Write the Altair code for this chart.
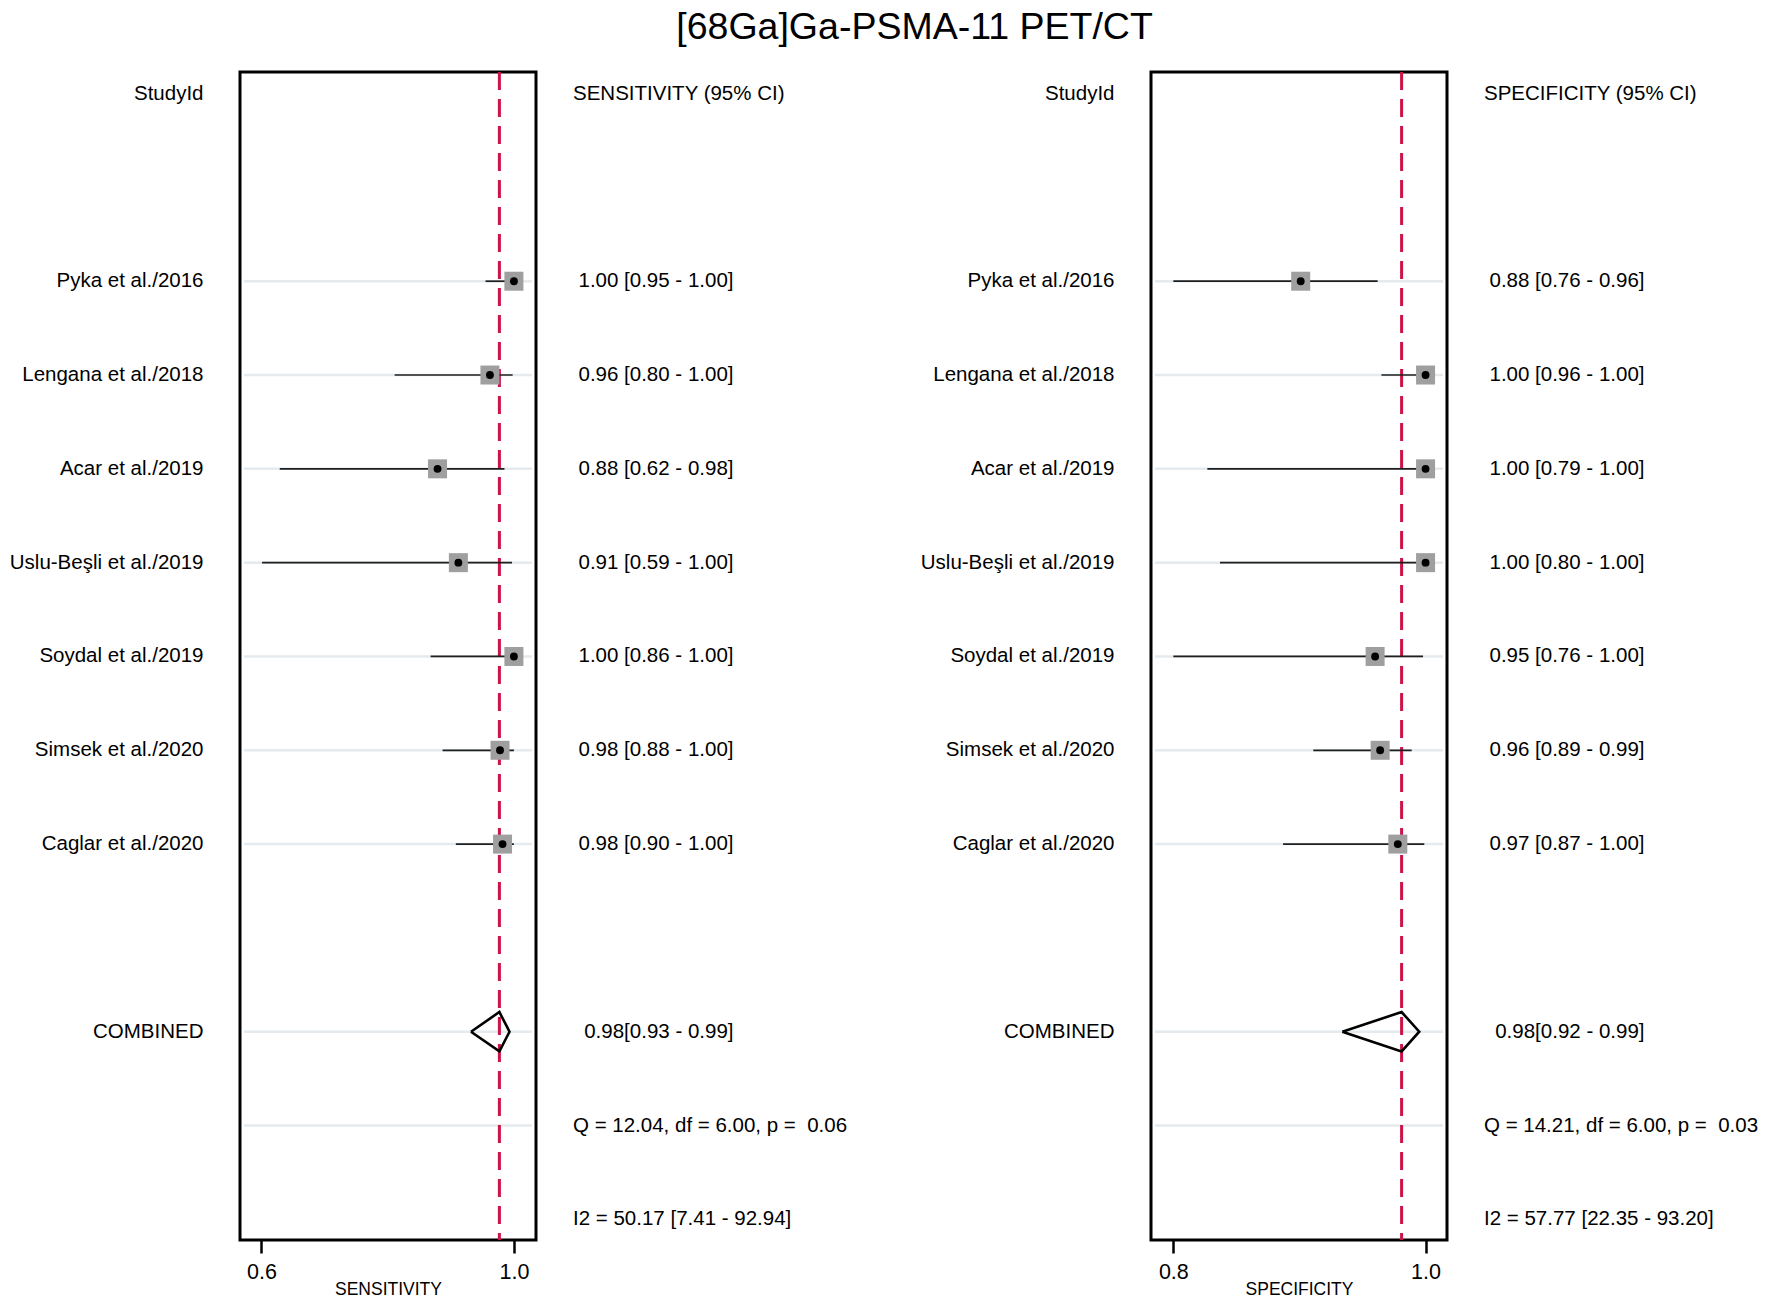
import altair as alt
import pandas as pd

TITLE = "[68Ga]Ga-PSMA-11 PET/CT"

studies = [
    "Pyka et al./2016",
    "Lengana et al./2018",
    "Acar et al./2019",
    "Uslu-Beşli et al./2019",
    "Soydal et al./2019",
    "Simsek et al./2020",
    "Caglar et al./2020",
]

# Sensitivity (positions) and printed labels
sens_est = [1.000, 0.962, 0.879, 0.912, 1.000, 0.978, 0.982]
sens_lo = [0.955, 0.811, 0.629, 0.601, 0.868, 0.887, 0.908]
sens_hi = [1.000, 0.998, 0.985, 0.997, 1.000, 1.000, 1.000]
sens_text = [
    "1.00 [0.95 - 1.00]",
    "0.96 [0.80 - 1.00]",
    "0.88 [0.62 - 0.98]",
    "0.91 [0.59 - 1.00]",
    "1.00 [0.86 - 1.00]",
    "0.98 [0.88 - 1.00]",
    "0.98 [0.90 - 1.00]",
]
sens_comb = [0.977, 0.932, 0.993]  # estimate, lower, upper
sens_comb_text = "0.98[0.93 - 0.99]"
sens_q = "Q = 12.04, df = 6.00, p = \u00a00.06"
sens_i2 = "I2 = 50.17 [7.41 - 92.94]"

# Specificity
spec_est = [0.901, 1.000, 1.000, 1.000, 0.960, 0.964, 0.978]
spec_lo = [0.800, 0.965, 0.827, 0.837, 0.800, 0.911, 0.887]
spec_hi = [0.962, 1.000, 1.000, 1.000, 0.998, 0.989, 0.999]
spec_text = [
    "0.88 [0.76 - 0.96]",
    "1.00 [0.96 - 1.00]",
    "1.00 [0.79 - 1.00]",
    "1.00 [0.80 - 1.00]",
    "0.95 [0.76 - 1.00]",
    "0.96 [0.89 - 0.99]",
    "0.97 [0.87 - 1.00]",
]
spec_comb = [0.981, 0.934, 0.995]
spec_comb_text = "0.98[0.92 - 0.99]"
spec_q = "Q = 14.21, df = 6.00, p = \u00a00.03"
spec_i2 = "I2 = 57.77 [22.35 - 93.20]"

STUDY_ROWS = list(range(2, 9))
HEADER_ROW, COMB_ROW, Q_ROW, I2_ROW = 0, 10, 11, 12
ROW_DOMAIN = [-0.23, 12.22]
W, H = 296, 1168
FONT = "Liberation Sans"
FS = 20.5
DIAMOND_HALF = 0.21


def panel(est, lo, hi, vtexts, comb, comb_text, header, q_text, i2_text,
          xdomain, xticks, xtitle):
    yenc = alt.Y("row:Q", scale=alt.Scale(domain=ROW_DOMAIN, reverse=True,
                                          nice=False, zero=False), axis=None)
    xscale = alt.Scale(domain=xdomain, nice=False, zero=False)
    xaxis = alt.Axis(values=xticks, format=".1f", grid=False, domain=False,
                     ticks=True, tickSize=13, tickWidth=2.5, tickColor="black",
                     labelFontSize=21.5, labelColor="black", labelPadding=8,
                     labelFont=FONT, title=xtitle, titleFontSize=17.5,
                     titleFont=FONT, titleFontWeight="normal",
                     titleColor="black", titlePadding=-2)

    df = pd.DataFrame({"study": studies, "row": STUDY_ROWS, "est": est,
                       "lo": lo, "hi": hi, "vtext": vtexts})

    grid_df = pd.DataFrame({"row": STUDY_ROWS + [COMB_ROW, Q_ROW]})
    grid = alt.Chart(grid_df).mark_rule(color="#e4eaed", strokeWidth=2.5).encode(
        x=alt.value(4), x2=alt.value(W - 4), y=yenc)

    ci = alt.Chart(df).mark_rule(color="#1e1e1e", strokeWidth=1.7).encode(
        x=alt.X("lo:Q", scale=xscale, axis=xaxis), x2="hi:Q", y=yenc)

    sq = alt.Chart(df).mark_point(shape="square", filled=True, color="#9f9f9f",
                                  opacity=1, size=361).encode(
        x=alt.X("est:Q", scale=xscale, axis=xaxis), y=yenc)

    dot = alt.Chart(df).mark_point(shape="circle", filled=True, color="black",
                                   opacity=1, size=62).encode(
        x=alt.X("est:Q", scale=xscale, axis=xaxis), y=yenc)

    c_est, c_lo, c_hi = comb
    dia_df = pd.DataFrame({
        "val": [c_lo, c_est, c_hi, c_est, c_lo],
        "row": [COMB_ROW, COMB_ROW - DIAMOND_HALF, COMB_ROW,
                COMB_ROW + DIAMOND_HALF, COMB_ROW],
        "ord": [0, 1, 2, 3, 4],
    })
    diamond = alt.Chart(dia_df).mark_line(color="black", strokeWidth=2.6,
                                          strokeJoin="miter").encode(
        x=alt.X("val:Q", scale=xscale, axis=xaxis), y=yenc, order="ord:Q")

    ref = alt.Chart(pd.DataFrame({"est": [c_est]})).mark_rule(
        color="#cc1448", strokeWidth=3, strokeDash=[18, 9]).encode(
        x=alt.X("est:Q", scale=xscale, axis=xaxis),
        y=alt.value(0), y2=alt.value(H))

    lab_df = pd.DataFrame({
        "row": [HEADER_ROW] + STUDY_ROWS + [COMB_ROW],
        "label": ["StudyId"] + studies + ["COMBINED"],
    })
    labels = alt.Chart(lab_df).mark_text(align="right", baseline="middle",
                                         font=FONT, fontSize=FS,
                                         color="black").encode(
        x=alt.value(-36.5), y=yenc, text="label:N")

    val_df = pd.DataFrame({
        "row": STUDY_ROWS + [COMB_ROW],
        "label": vtexts + [comb_text],
    })
    values = alt.Chart(val_df).mark_text(align="right", baseline="middle",
                                         font=FONT, fontSize=FS,
                                         color="black").encode(
        x=alt.value(493.5), y=yenc, text="label:N")

    left_df = pd.DataFrame({
        "row": [HEADER_ROW, Q_ROW, I2_ROW],
        "label": [header, q_text, i2_text],
    })
    lefttext = alt.Chart(left_df).mark_text(align="left", baseline="middle",
                                            font=FONT, fontSize=FS,
                                            color="black").encode(
        x=alt.value(333), y=yenc, text="label:N")

    return alt.layer(grid, ref, ci, sq, dot, diamond, labels, values,
                     lefttext).properties(width=W, height=H)


left = panel(sens_est, sens_lo, sens_hi, sens_text, sens_comb, sens_comb_text,
             "SENSITIVITY (95% CI)", sens_q, sens_i2,
             [0.566, 1.035], [0.6, 1.0], "SENSITIVITY")
right = panel(spec_est, spec_lo, spec_hi, spec_text, spec_comb, spec_comb_text,
              "SPECIFICITY (95% CI)", spec_q, spec_i2,
              [0.7823, 1.017], [0.8, 1.0], "SPECIFICITY")

chart = alt.hconcat(left, right, spacing=615, bounds="flush").properties(
    title=alt.TitleParams(TITLE, fontSize=37.5, font=FONT, fontWeight="normal",
                          color="black", anchor="start", frame="bounds",
                          dx=668, offset=23),
    padding=0,
).configure(font=FONT).configure_view(stroke="black", strokeWidth=3)

chart.save("out.html", embed_options={"renderer": "svg", "actions": False})
